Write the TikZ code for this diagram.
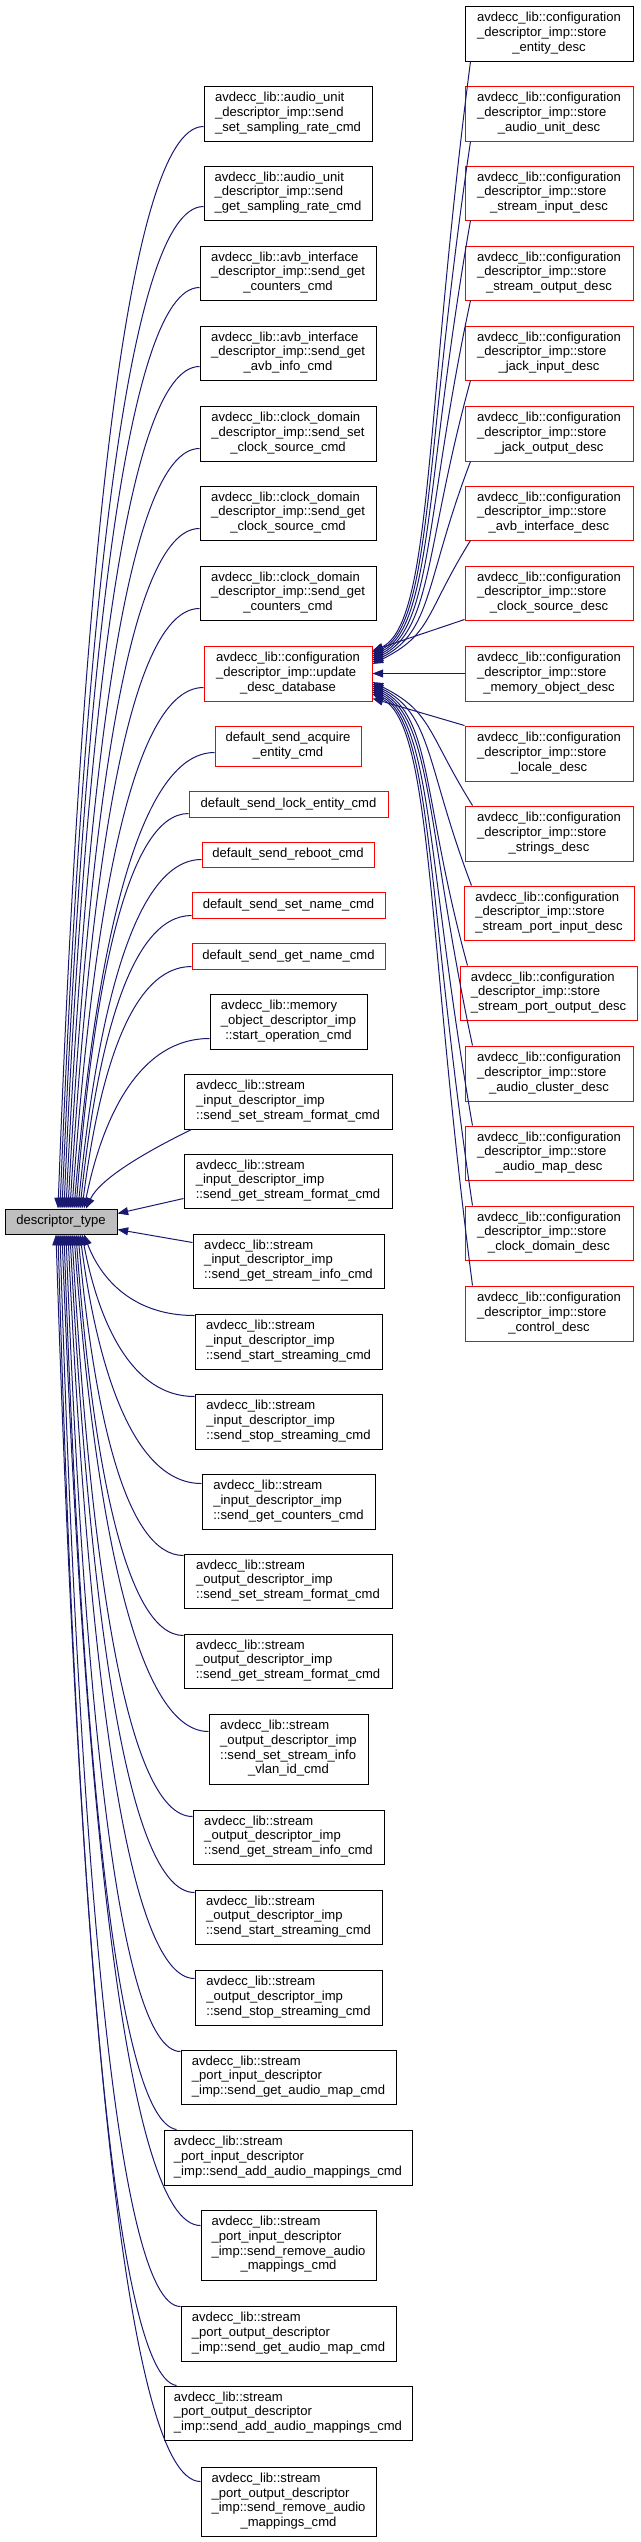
\documentclass[tikz,border=0pt]{standalone}
\usepackage{fontspec}
\setmainfont{Liberation Sans}
\usetikzlibrary{calc,arrows.meta}
\definecolor{navy}{HTML}{191970}
\definecolor{dtgray}{HTML}{BFBFBF}
\newcommand\lbl[2]{\begin{tabular}{@{}l@{}}#1\\\multicolumn{1}{@{}c@{}}{#2}\end{tabular}}
\newcommand\cfg[1]{\lbl{avdecc\_lib::configuration\\\_descriptor\_imp::store}{\_#1}}
\newcommand\sid[1]{\lbl{avdecc\_lib::stream\\\_input\_descriptor\_imp}{::#1}}
\newcommand\sod[1]{\lbl{avdecc\_lib::stream\\\_output\_descriptor\_imp}{::#1}}
\newcommand\mybox[6]{\node[#1, minimum width={(#4-#2)*0.75pt}, minimum height={(#5-#3)*0.75pt}] (#6) at ({(#2+#4)/2},{(#3+#5)/2})}
\tikzset{
  nd/.style={draw, line width=0.75pt, fill=white, inner sep=0pt, anchor=center, font=\fontsize{9.8}{11}\selectfont},
  blk/.style={nd, draw=black},
  rd/.style={nd, draw=red},
  dtb/.style={nd, draw=black, fill=dtgray},
  conn/.style={draw=navy, line width=0.75pt, -{Triangle[length=8pt,width=6pt]}},
}
\begin{document}
\begin{tikzpicture}[x=0.75pt,y=-0.75pt]
\useasboundingbox (0,0) rectangle (640,2542);
% root
\mybox{dtb}{5}{1209}{117}{1234}{dt}{descriptor\_type};
% right column
\mybox{blk}{465}{6}{633}{61}{R1}{\cfg{entity\_desc}};
\mybox{rd}{465}{86}{633}{141}{R2}{\cfg{audio\_unit\_desc}};
\mybox{rd}{465}{166}{633}{220}{R3}{\cfg{stream\_input\_desc}};
\mybox{rd}{465}{246}{633}{300}{R4}{\cfg{stream\_output\_desc}};
\mybox{rd}{465}{326}{633}{380}{R5}{\cfg{jack\_input\_desc}};
\mybox{rd}{465}{406}{633}{461}{R6}{\cfg{jack\_output\_desc}};
\mybox{rd}{465}{486}{633}{540}{R7}{\cfg{avb\_interface\_desc}};
\mybox{rd}{465}{566}{633}{620}{R8}{\cfg{clock\_source\_desc}};
\mybox{rd}{465}{646}{633}{701}{R9}{\cfg{memory\_object\_desc}};
\mybox{rd}{465}{726}{633}{781}{R10}{\cfg{locale\_desc}};
\mybox{rd}{465}{806}{633}{861}{R11}{\cfg{strings\_desc}};
\mybox{rd}{464}{886}{634}{940}{R12}{\cfg{stream\_port\_input\_desc}};
\mybox{rd}{460}{966}{637}{1020}{R13}{\cfg{stream\_port\_output\_desc}};
\mybox{rd}{465}{1046}{633}{1101}{R14}{\cfg{audio\_cluster\_desc}};
\mybox{rd}{465}{1126}{633}{1180}{R15}{\cfg{audio\_map\_desc}};
\mybox{rd}{465}{1206}{633}{1260}{R16}{\cfg{clock\_domain\_desc}};
\mybox{rd}{465}{1286}{633}{1341}{R17}{\cfg{control\_desc}};
% middle column
\mybox{blk}{204}{86}{372}{141}{M1}{\lbl{avdecc\_lib::audio\_unit\\\_descriptor\_imp::send}{\_set\_sampling\_rate\_cmd}};
\mybox{blk}{204}{166}{372}{220}{M2}{\lbl{avdecc\_lib::audio\_unit\\\_descriptor\_imp::send}{\_get\_sampling\_rate\_cmd}};
\mybox{blk}{200}{246}{376}{300}{M3}{\lbl{avdecc\_lib::avb\_interface\\\_descriptor\_imp::send\_get}{\_counters\_cmd}};
\mybox{blk}{200}{326}{376}{380}{M4}{\lbl{avdecc\_lib::avb\_interface\\\_descriptor\_imp::send\_get}{\_avb\_info\_cmd}};
\mybox{blk}{200}{406}{376}{461}{M5}{\lbl{avdecc\_lib::clock\_domain\\\_descriptor\_imp::send\_set}{\_clock\_source\_cmd}};
\mybox{blk}{200}{486}{376}{540}{M6}{\lbl{avdecc\_lib::clock\_domain\\\_descriptor\_imp::send\_get}{\_clock\_source\_cmd}};
\mybox{blk}{200}{566}{376}{620}{M7}{\lbl{avdecc\_lib::clock\_domain\\\_descriptor\_imp::send\_get}{\_counters\_cmd}};
\mybox{rd}{204}{646}{372}{701}{M8}{\lbl{avdecc\_lib::configuration\\\_descriptor\_imp::update}{\_desc\_database}};
\mybox{rd}{215}{726}{361}{766}{M9}{\lbl{default\_send\_acquire}{\_entity\_cmd}};
\mybox{rd}{189}{791}{388}{817}{M10}{default\_send\_lock\_entity\_cmd};
\mybox{rd}{202}{842}{374}{867}{M11}{default\_send\_reboot\_cmd};
\mybox{rd}{192}{892}{385}{918}{M12}{default\_send\_set\_name\_cmd};
\mybox{rd}{192}{943}{385}{969}{M13}{default\_send\_get\_name\_cmd};
\mybox{blk}{210}{994}{367}{1049}{M14}{\lbl{avdecc\_lib::memory\\\_object\_descriptor\_imp}{::start\_operation\_cmd}};
\mybox{blk}{184}{1074}{392}{1129}{M15}{\sid{send\_set\_stream\_format\_cmd}};
\mybox{blk}{184}{1154}{392}{1208}{M16}{\sid{send\_get\_stream\_format\_cmd}};
\mybox{blk}{193}{1234}{384}{1288}{M17}{\sid{send\_get\_stream\_info\_cmd}};
\mybox{blk}{195}{1314}{382}{1369}{M18}{\sid{send\_start\_streaming\_cmd}};
\mybox{blk}{195}{1394}{382}{1449}{M19}{\sid{send\_stop\_streaming\_cmd}};
\mybox{blk}{202}{1474}{375}{1529}{M20}{\sid{send\_get\_counters\_cmd}};
\mybox{blk}{184}{1554}{392}{1608}{M21}{\sod{send\_set\_stream\_format\_cmd}};
\mybox{blk}{184}{1634}{392}{1688}{M22}{\sod{send\_get\_stream\_format\_cmd}};
\mybox{blk}{209}{1714}{368}{1784}{M23}{\lbl{avdecc\_lib::stream\\\_output\_descriptor\_imp\\::send\_set\_stream\_info}{\_vlan\_id\_cmd}};
\mybox{blk}{193}{1810}{384}{1864}{M24}{\sod{send\_get\_stream\_info\_cmd}};
\mybox{blk}{195}{1890}{382}{1944}{M25}{\sod{send\_start\_streaming\_cmd}};
\mybox{blk}{195}{1970}{382}{2025}{M26}{\sod{send\_stop\_streaming\_cmd}};
\mybox{blk}{181}{2050}{396}{2104}{M27}{\lbl{avdecc\_lib::stream\\\_port\_input\_descriptor}{\_imp::send\_get\_audio\_map\_cmd}};
\mybox{blk}{164}{2130}{412}{2185}{M28}{\lbl{avdecc\_lib::stream\\\_port\_input\_descriptor}{\_imp::send\_add\_audio\_mappings\_cmd}};
\mybox{blk}{201}{2210}{376}{2280}{M29}{\lbl{avdecc\_lib::stream\\\_port\_input\_descriptor\\\_imp::send\_remove\_audio}{\_mappings\_cmd}};
\mybox{blk}{181}{2306}{396}{2361}{M30}{\lbl{avdecc\_lib::stream\\\_port\_output\_descriptor}{\_imp::send\_get\_audio\_map\_cmd}};
\mybox{blk}{164}{2386}{412}{2440}{M31}{\lbl{avdecc\_lib::stream\\\_port\_output\_descriptor}{\_imp::send\_add\_audio\_mappings\_cmd}};
\mybox{blk}{201}{2467}{376}{2536}{M32}{\lbl{avdecc\_lib::stream\\\_port\_output\_descriptor\\\_imp::send\_remove\_audio}{\_mappings\_cmd}};
% callers above the root
\draw[conn] ($(M1.south west)+(0,-15)$) .. controls +(-80,0) and +(22,-596) .. ($(dt.north)+(-3,0)$);
\draw[conn] ($(M2.south west)+(0,-14)$) .. controls +(-79,0) and +(22,-552) .. ($(dt.north)+(-1,0)$);
\draw[conn] ($(M3.south west)+(0,-13)$) .. controls +(-76,0) and +(21,-508) .. ($(dt.north)+(1,0)$);
\draw[conn] ($(M4.south west)+(0,-14)$) .. controls +(-75,0) and +(20,-464) .. ($(dt.north)+(3,0)$);
\draw[conn] ($(M5.south west)+(0,-13)$) .. controls +(-74,0) and +(20,-419) .. ($(dt.north)+(5,0)$);
\draw[conn] ($(M6.south west)+(0,-12)$) .. controls +(-73,0) and +(20,-375) .. ($(dt.north)+(7,0)$);
\draw[conn] ($(M7.south west)+(0,-12)$) .. controls +(-72,0) and +(20,-331) .. ($(dt.north)+(9,0)$);
\draw[conn] ($(M8.south west)+(0,-14)$) .. controls +(-73,0) and +(20,-287) .. ($(dt.north)+(11,0)$);
\draw[conn] ($(M9.south west)+(0,-14)$) .. controls +(-78,0) and +(21,-251) .. ($(dt.north)+(13,0)$);
\draw[conn] ($(M10.south west)+(0,-4)$) .. controls +(-62,0) and +(17,-218) .. ($(dt.north)+(15,0)$);
\draw[conn] ($(M11.south west)+(0,-8)$) .. controls +(-68,0) and +(19,-193) .. ($(dt.north)+(17,0)$);
\draw[conn] ($(M12.south west)+(0,-3)$) .. controls +(-62,0) and +(17,-162) .. ($(dt.north)+(19,0)$);
\draw[conn] ($(M13.south west)+(0,-3)$) .. controls +(-61,0) and +(17,-134) .. ($(dt.north)+(21,0)$);
\draw[conn] ($(M14.south west)+(0,-11)$) .. controls +(-69,0) and +(19,-94) .. ($(dt.north)+(23,0)$);
\draw[conn] ($(M15.south west)+(8,0)$) .. controls +(-45,22) and +(14,-30) .. ($(dt.north)+(25,0)$);
% straight ones
\draw[conn] ($(M16.south west)+(0,-10)$) -- ($(dt.east)+(0,-8)$);
\draw[conn] ($(M17.north west)+(0,9)$) -- ($(dt.east)+(0,8)$);
% callers below the root
\draw[conn] ($(M18.north west)+(0,2)$) .. controls +(-61,0) and +(17,45) .. ($(dt.south)+(23,0)$);
\draw[conn] ($(M19.north west)+(0,3)$) .. controls +(-62,0) and +(17,90) .. ($(dt.south)+(21,0)$);
\draw[conn] ($(M20.north west)+(0,10)$) .. controls +(-67,0) and +(18,138) .. ($(dt.south)+(19,0)$);
\draw[conn] ($(M21.north west)+(0,2)$) .. controls +(-58,0) and +(16,177) .. ($(dt.south)+(17,0)$);
\draw[conn] ($(M22.north west)+(0,2)$) .. controls +(-59,0) and +(16,221) .. ($(dt.south)+(15,0)$);
\draw[conn] ($(M23.north west)+(0,18)$) .. controls +(-74,0) and +(20,274) .. ($(dt.south)+(13,0)$);
\draw[conn] ($(M24.north west)+(0,7)$) .. controls +(-67,0) and +(18,321) .. ($(dt.south)+(11,0)$);
\draw[conn] ($(M25.north west)+(0,3)$) .. controls +(-69,0) and +(19,362) .. ($(dt.south)+(9,0)$);
\draw[conn] ($(M26.north west)+(0,9)$) .. controls +(-70,0) and +(19,410) .. ($(dt.south)+(7,0)$);
\draw[conn] ($(M27.north west)+(0,2)$) .. controls +(-63,0) and +(17,450) .. ($(dt.south)+(5,0)$);
\draw[conn] ($(M28.north west)+(13,0)$) .. controls +(-62,-10) and +(17,493) .. ($(dt.south)+(3,0)$);
\draw[conn] ($(M29.north west)+(0,16)$) .. controls +(-76,0) and +(21,546) .. ($(dt.south)+(1,0)$);
\draw[conn] ($(M30.north west)+(0,1)$) .. controls +(-66,0) and +(18,590) .. ($(dt.south)+(-1,0)$);
\draw[conn] ($(M31.north west)+(13,0)$) .. controls +(-65,-10) and +(18,634) .. ($(dt.south)+(-3,0)$);
\draw[conn] ($(M32.north west)+(0,15)$) .. controls +(-80,0) and +(22,686) .. ($(dt.south)+(-5,0)$);
% callers of update_desc_database (above)
\draw[conn] ($(R1.south west)+(6,0)$) .. controls +(-46,355) and +(60,-30) .. ($(M8.east)+(0,-21.5)$);
\draw[conn] ($(R2.south west)+(6,0)$) .. controls +(-46,308) and +(60,-30) .. ($(M8.east)+(0,-19.5)$);
\draw[conn] ($(R3.south west)+(6,0)$) .. controls +(-46,262) and +(60,-30) .. ($(M8.east)+(0,-17.5)$);
\draw[conn] ($(R4.south west)+(6,0)$) .. controls +(-46,215) and +(60,-30) .. ($(M8.east)+(0,-15.5)$);
\draw[conn] ($(R5.south west)+(6,0)$) .. controls +(-46,168) and +(60,-30) .. ($(M8.east)+(0,-13.5)$);
\draw[conn] ($(R6.south west)+(6,0)$) .. controls +(-46,121) and +(60,-30) .. ($(M8.east)+(0,-11.5)$);
\draw[conn] ($(R7.south west)+(6,0)$) .. controls +(-46,74) and +(60,-30) .. ($(M8.east)+(0,-9.5)$);
\draw[conn] ($(R8.south west)+(0,-1)$) -- ($(M8.east)+(0,-23)$);
\draw[conn] (R9.west) -- (M8.east);
\draw[conn] (R10.north west) -- ($(M8.east)+(0,25)$);
% callers of update_desc_database (below)
\draw[conn] ($(R11.north west)+(8,0)$) .. controls +(-46,-74) and +(60,30) .. ($(M8.east)+(0,8.5)$);
\draw[conn] ($(R12.north west)+(8,0)$) .. controls +(-46,-121) and +(60,30) .. ($(M8.east)+(0,10.5)$);
\draw[conn] ($(R13.north west)+(8,0)$) .. controls +(-46,-168) and +(60,30) .. ($(M8.east)+(0,12.5)$);
\draw[conn] ($(R14.north west)+(8,0)$) .. controls +(-46,-215) and +(60,30) .. ($(M8.east)+(0,14.5)$);
\draw[conn] ($(R15.north west)+(8,0)$) .. controls +(-46,-262) and +(60,30) .. ($(M8.east)+(0,16.5)$);
\draw[conn] ($(R16.north west)+(8,0)$) .. controls +(-46,-308) and +(60,30) .. ($(M8.east)+(0,18.5)$);
\draw[conn] ($(R17.north west)+(8,0)$) .. controls +(-46,-355) and +(60,30) .. ($(M8.east)+(0,20.5)$);
\end{tikzpicture}
\end{document}
